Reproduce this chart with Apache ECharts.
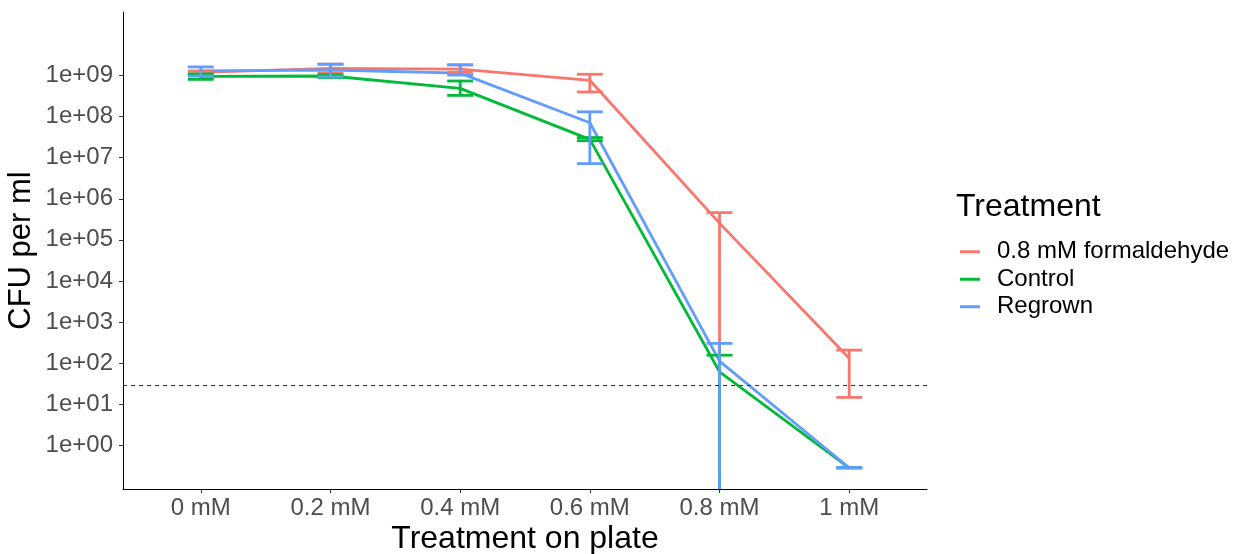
<!DOCTYPE html>
<html lang="en">
<head>
    <meta charset="UTF-8">
    <title>CFU per ml by treatment</title>
    <script src="https://cdn.jsdelivr.net/npm/echarts@6/dist/echarts.min.js"></script>
</head>
<body style="margin:0">
    <div id="chart" style="width:1235px;height:554px;"></div>
    <script>
        // doses on the plate
        var doses = ['0 mM', '0.2 mM', '0.4 mM', '0.6 mM', '0.8 mM', '1 mM'];

        // 0.8 mM formaldehyde
        var formMean = [1.2e9, 1.5e9, 1.44e9, 7.7e8, 2.55e5, 131];
        var formLow  = [1.1e9, 1.15e9, 1.2e9, 4.0e8, null, 14.5];
        var formHigh = [1.3e9, 1.9e9, 1.83e9, 1.08e9, 4.6e5, 206];

        // Control
        var ctrlMean = [9.6e8, 9.8e8, 4.9e8, 2.8e7, 61, 0.28];
        var ctrlLow  = [8.1e8, 9.0e8, 3.3e8, 2.6e7, null, 0.28];
        var ctrlHigh = [1.1e9, 1.05e9, 7.4e8, 3.1e7, 155, 0.28];

        // Regrown
        var regMean = [1.3e9, 1.37e9, 1.15e9, 7.1e7, 111, 0.28];
        var regLow  = [9.7e8, 9.4e8, 1.03e9, 7.2e6, null, 0.28];
        var regHigh = [1.63e9, 1.9e9, 1.83e9, 1.31e8, 300, 0.28];

        // dashed reference line
        var limitLine = 28;

        // y ticks
        var yTicks = [1, 10, 100, 1e3, 1e4, 1e5, 1e6, 1e7, 1e8, 1e9];

        var yMin = Math.pow(10, -1.07);
        var yMax = Math.pow(10, 10.55);
        var font = '"Liberation Sans", Arial, sans-serif';

        var chart = echarts.init(document.getElementById('chart'));

        function points(vals) {
            return vals.map(function (v, i) { return [i, v]; });
        }
        function bars(lo, hi) {
            return hi.map(function (v, i) { return [i, lo[i] == null ? NaN : lo[i], v]; });
        }

        // error bar: vertical stroke plus caps; a missing low end runs to the axis
        function errorBar(color) {
            return function (params, api) {
                var x = api.value(0);
                var lo = api.value(1);
                var hi = api.value(2);
                var sys = params.coordSys;
                var top = api.coord([x, hi]);
                var left = api.coord([x - 0.1, hi])[0];
                var right = api.coord([x + 0.1, hi])[0];
                var style = { stroke: color, lineWidth: 2.8, fill: null };
                var kids = [
                    { type: 'line', shape: { x1: left, y1: top[1], x2: right, y2: top[1] }, style: style }
                ];
                var botY;
                if (isNaN(lo)) {
                    botY = sys.y + sys.height;
                } else {
                    botY = api.coord([x, lo])[1];
                    kids.push({ type: 'line', shape: { x1: left, y1: botY, x2: right, y2: botY }, style: style });
                }
                kids.push({ type: 'line', shape: { x1: top[0], y1: top[1], x2: top[0], y2: botY }, style: style });
                return { type: 'group', children: kids };
            };
        }

        function lineSeries(name, color, vals) {
            return {
                name: name,
                type: 'line',
                color: color,
                symbol: 'none',
                lineStyle: { width: 2.8, color: color },
                data: points(vals),
                z: 2
            };
        }

        function errSeries(name, color, lo, hi) {
            return {
                name: name + ' err',
                type: 'custom',
                renderItem: errorBar(color),
                encode: { x: 0, y: 2 },
                data: bars(lo, hi),
                z: 3
            };
        }

        var red = '#F8766D', green = '#00BA38', blue = '#619CFF';

        var formLine = lineSeries('0.8 mM formaldehyde', red, formMean);
        formLine.markLine = {
            silent: true,
            symbol: ['none', 'none'],
            label: { show: false },
            lineStyle: { type: [4, 4], color: '#333333', width: 1 },
            data: [{ yAxis: limitLine }]
        };

        var option = {
            animation: false,
            textStyle: { fontFamily: font },
            title: {
                text: 'Treatment',
                left: 951,
                top: 186,
                textStyle: { fontFamily: font, fontSize: 32, fontWeight: 'normal', color: '#000' }
            },
            legend: {
                data: ['0.8 mM formaldehyde', 'Control', 'Regrown'],
                orient: 'vertical',
                left: 955,
                top: 233,
                icon: 'rect',
                itemWidth: 20,
                itemHeight: 3,
                itemGap: 0,
                textStyle: { fontFamily: font, fontSize: 24, color: '#000', lineHeight: 27.5, padding: [0, 0, 0, 12] }
            },
            grid: { left: 123, right: 308, top: 12, bottom: 65, outerBoundsMode: 'none' },
            xAxis: {
                type: 'value',
                min: -0.6,
                max: 5.6,
                name: 'Treatment on plate',
                nameLocation: 'middle',
                nameGap: 34,
                nameMoveOverlap: false,
                nameTextStyle: { fontFamily: font, fontSize: 32, color: '#000' },
                splitLine: { show: false },
                axisLine: { onZero: false, lineStyle: { color: '#000', width: 1 } },
                axisTick: { customValues: [0, 1, 2, 3, 4, 5], length: 4, lineStyle: { color: '#333' } },
                axisLabel: {
                    customValues: [0, 1, 2, 3, 4, 5],
                    margin: 7,
                    fontSize: 24,
                    color: '#4D4D4D',
                    formatter: function (v) { return doses[Math.round(v)]; }
                }
            },
            yAxis: {
                type: 'log',
                min: yMin,
                max: yMax,
                name: 'CFU per ml',
                nameLocation: 'middle',
                nameGap: 86,
                nameMoveOverlap: false,
                nameTextStyle: { fontFamily: font, fontSize: 31, color: '#000' },
                splitLine: { show: false },
                axisLine: { show: true, onZero: false, lineStyle: { color: '#000', width: 1 } },
                axisTick: { show: true, customValues: yTicks, length: 4, lineStyle: { color: '#333' } },
                axisLabel: {
                    customValues: yTicks,
                    margin: 10,
                    fontSize: 24,
                    color: '#4D4D4D',
                    formatter: function (v) {
                        var e = Math.round(Math.log10(v));
                        return '1e+' + (e < 10 ? '0' + e : e);
                    }
                }
            },
            series: [
                formLine,
                lineSeries('Control', green, ctrlMean),
                lineSeries('Regrown', blue, regMean),
                errSeries('0.8 mM formaldehyde', red, formLow, formHigh),
                errSeries('Control', green, ctrlLow, ctrlHigh),
                errSeries('Regrown', blue, regLow, regHigh)
            ]
        };

        chart.setOption(option);
    </script>
</body>
</html>
